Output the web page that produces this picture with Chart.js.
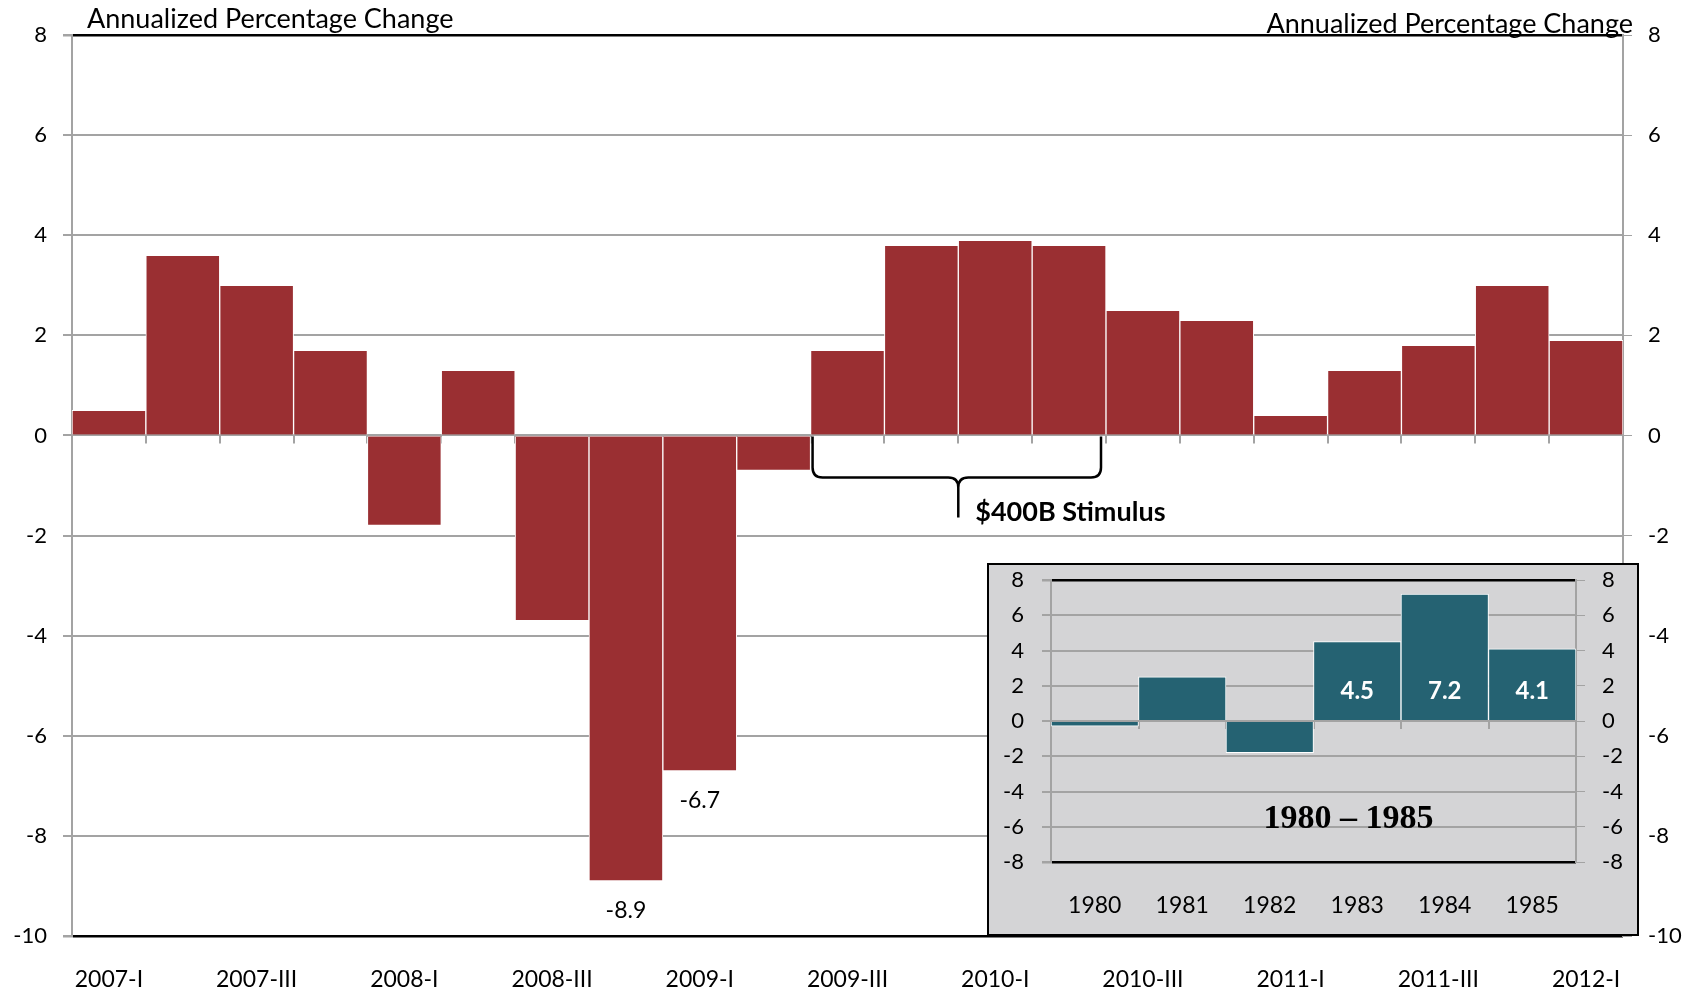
<!DOCTYPE html>
<html>
<head>
<meta charset="utf-8">
<style>
  html, body { margin: 0; padding: 0; background: #fff; }
  #wrap { position: relative; width: 1702px; height: 991px; }
  #inset { position: absolute; left: 987px; top: 563px; width: 648px; height: 369px; border: 2px solid #000; background: #d4d4d6; }
  canvas { display: block; }
</style>
</head>
<body>
<div id="wrap">
  <canvas id="mainChart" width="1702" height="991"></canvas>
  <div id="inset"><canvas id="insetChart" width="648" height="369"></canvas></div>
</div>
<script src="https://cdn.jsdelivr.net/npm/chart.js@4.4.1/dist/chart.umd.min.js"></script>
<script>
    // quarterly real GDP, annualized % change
    const quarters = ['2007-I', '2007-II', '2007-III', '2007-IV', '2008-I', '2008-II', '2008-III', '2008-IV',
        '2009-I', '2009-II', '2009-III', '2009-IV', '2010-I', '2010-II', '2010-III', '2010-IV',
        '2011-I', '2011-II', '2011-III', '2011-IV', '2012-I']
    const gdpChange = [0.5, 3.6, 3.0, 1.7, -1.8, 1.3, -3.7, -8.9, -6.7, -0.7, 1.7, 3.8, 3.9, 3.8, 2.5, 2.3, 0.4, 1.3, 1.8, 3.0, 1.9]
    const labelledQuarters = [7, 8]
    // stimulus bracket covers 2009-III .. 2010-II
    const stimulusFrom = 10
    const stimulusTo = 13
    const stimulusText = '$400B Stimulus'
    const axisTitle = 'Annualized Percentage Change'

    // inset: 1980 - 1985 recovery
    const insetYears = ['1980', '1981', '1982', '1983', '1984', '1985']
    const insetChange = [-0.3, 2.5, -1.8, 4.5, 7.2, 4.1]
    const insetLabelled = [3, 4, 5]
    const insetTitle = '1980 \u2013 1985'

    const FONT = 'Lato, "Open Sans", sans-serif'
    const gridGray = '#a3a3a3'
    const barRed = '#9a2f32'
    const barTeal = '#256272'

    Chart.defaults.font.family = FONT
    Chart.defaults.color = '#000'

    // grid colour: black frame at top/bottom of the range, grey otherwise
    function gridStyle(lo, hi) {
        return {
            color: ctx => (ctx.tick && (ctx.tick.value === lo || ctx.tick.value === hi)) ? '#000' : gridGray,
            lineWidth: ctx => (ctx.tick && (ctx.tick.value === lo || ctx.tick.value === hi)) ? 2.5 : 2,
            tickColor: gridGray,
            tickLength: 9
        }
    }

    function drawCategoryTicks(chart, count) {
        const { ctx, scales: { x, y } } = chart
        const step = x.getPixelForValue(1) - x.getPixelForValue(0)
        const y0 = y.getPixelForValue(0)
        ctx.save()
        ctx.strokeStyle = gridGray
        ctx.lineWidth = 2
        for (let i = 1; i < count; i++) {
            const px = Math.round(x.getPixelForValue(i) - step / 2)
            ctx.beginPath()
            ctx.moveTo(px, y0)
            ctx.lineTo(px, y0 + 8)
            ctx.stroke()
        }
        ctx.restore()
    }

    const mainExtras = {
        id: 'mainExtras',
        beforeDatasetsDraw(chart) {
            drawCategoryTicks(chart, quarters.length)
        },
        afterDatasetsDraw(chart) {
            const { ctx, chartArea, scales: { x, y } } = chart
            const step = x.getPixelForValue(1) - x.getPixelForValue(0)
            ctx.save()
            // value labels below the deepest bars
            ctx.font = '23px ' + FONT
            ctx.fillStyle = '#000'
            ctx.textAlign = 'center'
            ctx.textBaseline = 'middle'
            labelledQuarters.forEach(i => {
                ctx.fillText(gdpChange[i].toFixed(1), x.getPixelForValue(i), y.getPixelForValue(gdpChange[i]) + 30)
            })

            // curly bracket under the stimulus quarters
            const L = x.getPixelForValue(stimulusFrom) - step / 2 + 2
            const R = x.getPixelForValue(stimulusTo) + step / 2 - 5
            const tip = (x.getPixelForValue(stimulusFrom) + x.getPixelForValue(stimulusTo)) / 2
            const y0 = y.getPixelForValue(0) + 1
            const yb = y.getPixelForValue(-0.84)
            const yt = y.getPixelForValue(-1.64)
            const r = 10
            ctx.strokeStyle = '#000'
            ctx.lineWidth = 2.5
            ctx.beginPath()
            ctx.moveTo(L, y0)
            ctx.lineTo(L, yb - r)
            ctx.quadraticCurveTo(L, yb, L + r, yb)
            ctx.lineTo(tip - r, yb)
            ctx.quadraticCurveTo(tip, yb, tip, yb + r)
            ctx.lineTo(tip, yt)
            ctx.moveTo(tip, yb + r)
            ctx.quadraticCurveTo(tip, yb, tip + r, yb)
            ctx.lineTo(R - r, yb)
            ctx.quadraticCurveTo(R, yb, R, yb - r)
            ctx.lineTo(R, y0)
            ctx.stroke()
            ctx.font = 'bold 27px ' + FONT
            ctx.textAlign = 'left'
            ctx.fillText(stimulusText, tip + 17, y.getPixelForValue(-1.54))

            // axis titles at both top corners
            ctx.font = '27px ' + FONT
            ctx.textAlign = 'left'
            ctx.fillText(axisTitle, chartArea.left + 15, 19)
            ctx.textAlign = 'right'
            ctx.fillText(axisTitle, chartArea.right + 10, 24)
            ctx.restore()
        }
    }

    new Chart(document.getElementById('mainChart'), {
        type: 'bar',
        data: {
            labels: quarters,
            datasets: [{
                data: gdpChange,
                backgroundColor: barRed,
                borderColor: '#fff',
                borderWidth: 1,
                barPercentage: 1,
                categoryPercentage: 1
            }]
        },
        options: {
            responsive: false,
            animation: false,
            layout: { padding: { top: 35 } },
            plugins: { legend: { display: false }, tooltip: { enabled: false } },
            scales: {
                x: {
                    grid: { display: false, drawTicks: false },
                    border: { display: false },
                    ticks: {
                        autoSkip: false,
                        maxRotation: 0,
                        padding: 30,
                        font: { size: 23 },
                        callback: (v, i) => i % 2 === 0 ? quarters[i] : ''
                    },
                    afterFit: s => { s.height = 55 }
                },
                y: {
                    min: -10, max: 8,
                    ticks: { stepSize: 2, padding: 16, font: { size: 22 } },
                    grid: gridStyle(-10, 8),
                    border: { color: gridGray, width: 2 },
                    afterFit: s => { s.width = 72 }
                },
                y2: {
                    position: 'right',
                    min: -10, max: 8,
                    ticks: { stepSize: 2, padding: 16, font: { size: 22 } },
                    grid: { drawOnChartArea: false, tickColor: gridGray, tickLength: 9 },
                    border: { color: gridGray, width: 2 },
                    afterFit: s => { s.width = 79 }
                }
            }
        },
        plugins: [mainExtras]
    })

    const insetExtras = {
        id: 'insetExtras',
        beforeDatasetsDraw(chart) {
            drawCategoryTicks(chart, insetYears.length)
        },
        afterDatasetsDraw(chart) {
            const { ctx, chartArea, scales: { x, y } } = chart
            ctx.save()
            ctx.fillStyle = '#fff'
            ctx.font = 'bold 24px ' + FONT
            ctx.textAlign = 'center'
            ctx.textBaseline = 'middle'
            insetLabelled.forEach(i => {
                ctx.fillText(insetChange[i].toFixed(1), x.getPixelForValue(i), y.getPixelForValue(0) - 30)
            })
            ctx.fillStyle = '#000'
            ctx.font = 'bold 34px "Liberation Serif", "Times New Roman", serif'
            ctx.fillText(insetTitle, (chartArea.left + chartArea.right) / 2 + 35, y.getPixelForValue(-5.6))
            ctx.restore()
        }
    }

    // keep the tick-label overhang from pushing the inset plot down
    const trimPadding = (w) => s => { s.width = w; s.paddingTop = 10; s.paddingBottom = 10 }

    new Chart(document.getElementById('insetChart'), {
        type: 'bar',
        data: {
            labels: insetYears,
            datasets: [{
                data: insetChange,
                backgroundColor: barTeal,
                borderColor: '#fff',
                borderWidth: 1,
                barPercentage: 1,
                categoryPercentage: 1
            }]
        },
        options: {
            responsive: false,
            animation: false,
            layout: { padding: { top: 15 } },
            plugins: { legend: { display: false }, tooltip: { enabled: false } },
            scales: {
                x: {
                    grid: { display: false, drawTicks: false },
                    border: { display: false },
                    ticks: { maxRotation: 0, padding: 30, font: { size: 23 } },
                    afterFit: s => { s.height = 72 }
                },
                y: {
                    min: -8, max: 8,
                    ticks: { stepSize: 2, padding: 18, font: { size: 22 } },
                    grid: gridStyle(-8, 8),
                    border: { color: gridGray, width: 2 },
                    afterFit: trimPadding(62)
                },
                y2: {
                    position: 'right',
                    min: -8, max: 8,
                    ticks: { stepSize: 2, padding: 17, font: { size: 22 } },
                    grid: { drawOnChartArea: false, tickColor: gridGray, tickLength: 9 },
                    border: { color: gridGray, width: 2 },
                    afterFit: trimPadding(61)
                }
            }
        },
        plugins: [insetExtras]
    })
</script>
</body>
</html>
